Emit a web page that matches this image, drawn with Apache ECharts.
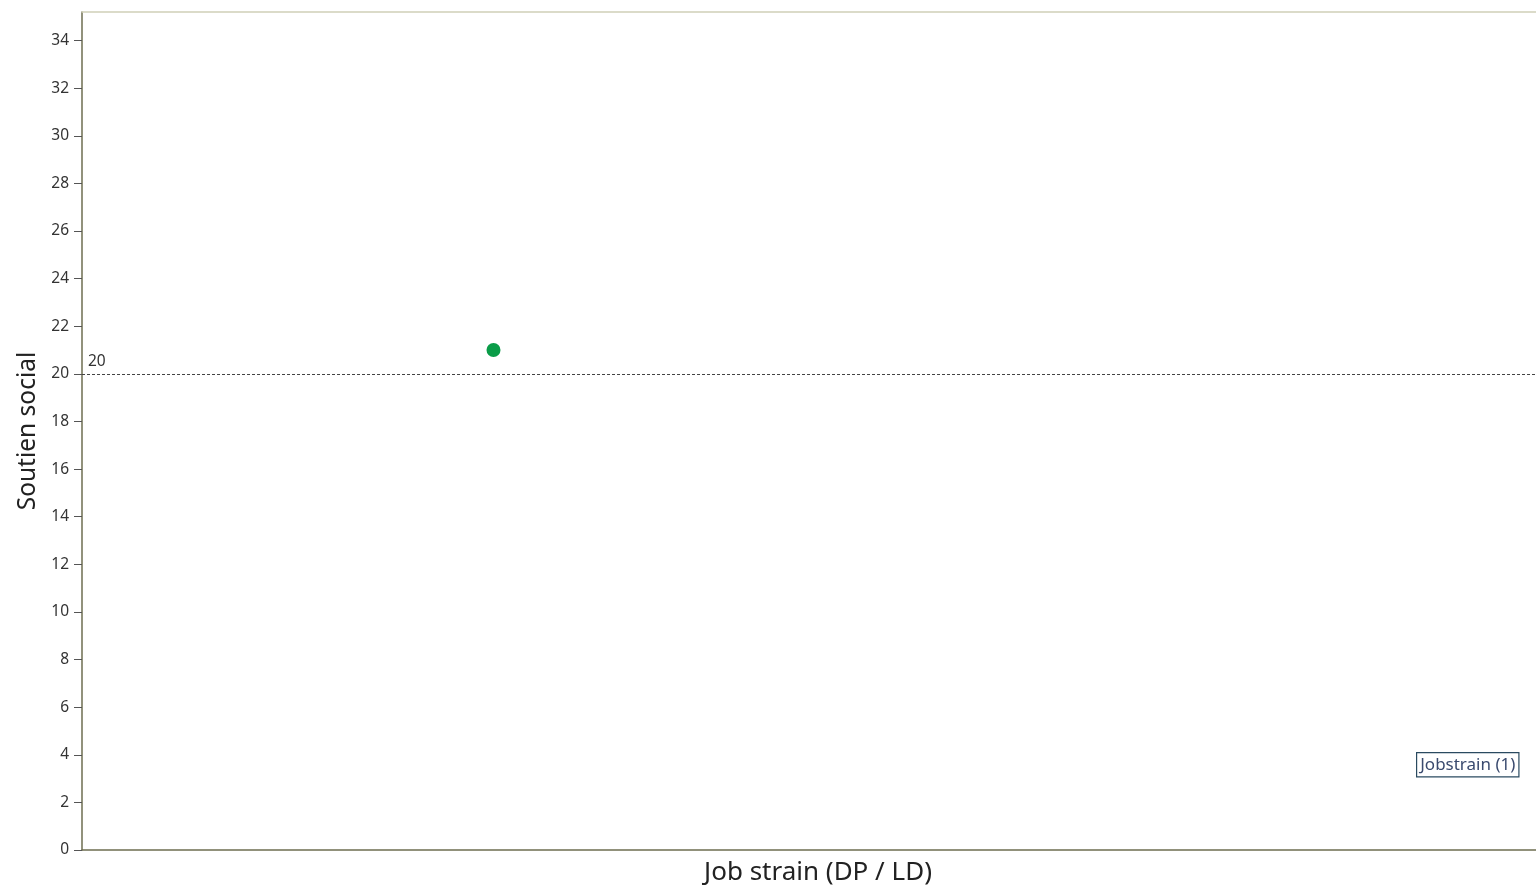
<!DOCTYPE html>
<html>
<head>
<meta charset="utf-8">
<script src="https://cdn.jsdelivr.net/npm/echarts@6/dist/echarts.min.js"></script>
<style>
html,body{margin:0;padding:0;background:#fff;}
#chart{width:1536px;height:889px;}
</style>
</head>
<body>
<div id="chart"></div>
<script>
// Data
var seriesName = 'Jobstrain (1)';
var jobStrainX = [0.283];
var soutienY = [21];
var referenceLine = [20];
var yTicks = [0, 2, 4, 6, 8, 10, 12, 14, 16, 18, 20, 22, 24, 26, 28, 30, 32, 34];
var yMin = 0, yMax = 35.2;
var xMin = 0, xMax = 1;

var points = jobStrainX.map(function (x, i) { return [x, soutienY[i]]; });

var chart = echarts.init(document.getElementById('chart'));
var font = 'Noto Sans, Open Sans, sans-serif';
chart.setOption({
  backgroundColor: '#ffffff',
  animation: false,
  grid: { left: 82, right: 0, top: 12, bottom: 39, containLabel: false, outerBoundsMode: 'none' },
  xAxis: [{
    type: 'value', min: xMin, max: xMax,
    name: 'Job strain (DP / LD)', nameLocation: 'middle', nameGap: 10,
    nameTextStyle: { fontFamily: font, fontSize: 26, color: '#222', verticalAlign: 'top', padding: [0, 0, 0, 18] },
    axisLine: { show: true, lineStyle: { color: '#6e6e50', width: 1.5 } },
    axisTick: { show: false }, axisLabel: { show: false }, splitLine: { show: false }
  }, {
    type: 'value', min: xMin, max: xMax, position: 'top',
    axisLine: { show: true, lineStyle: { color: '#cfcfb8', width: 1.5 } },
    axisTick: { show: false }, axisLabel: { show: false }, splitLine: { show: false }
  }],
  yAxis: {
    type: 'value', min: yMin, max: yMax,
    name: 'Soutien social', nameLocation: 'middle', nameGap: 40,
    nameTextStyle: { fontFamily: font, fontSize: 24.5, color: '#222' },
    axisLine: { show: true, lineStyle: { color: '#6e6e50', width: 1.5 } },
    axisTick: { show: true, length: 8, customValues: yTicks, lineStyle: { color: '#555' } },
    axisLabel: {
      fontFamily: font, fontSize: 15.5, color: '#333', margin: 13, customValues: yTicks
    },
    splitLine: { show: false }
  },
  series: [{
    name: seriesName, type: 'scatter', data: points,
    symbol: 'circle', symbolSize: 14,
    itemStyle: { color: '#0a9c48', opacity: 1 },
    markLine: {
      silent: true, symbol: 'none',
      lineStyle: { color: '#444', type: [3, 2], width: 1 },
      label: { show: true, position: 'insideStartTop', distance: [6, 4], fontFamily: font, fontSize: 15.5, color: '#333',
               formatter: function (p) { return p.value; } },
      data: referenceLine.map(function (v) { return { yAxis: v }; })
    }
  }],
  graphic: [{
    type: 'text', left: 1416, top: 752,
    style: {
      text: seriesName, fontFamily: font, fontSize: 17, fill: '#3a4a6e',
      borderColor: '#2a4a60', borderWidth: 1.2, padding: [3, 3, 3, 3], backgroundColor: '#fff'
    }
  }]
});
</script>
</body>
</html>
